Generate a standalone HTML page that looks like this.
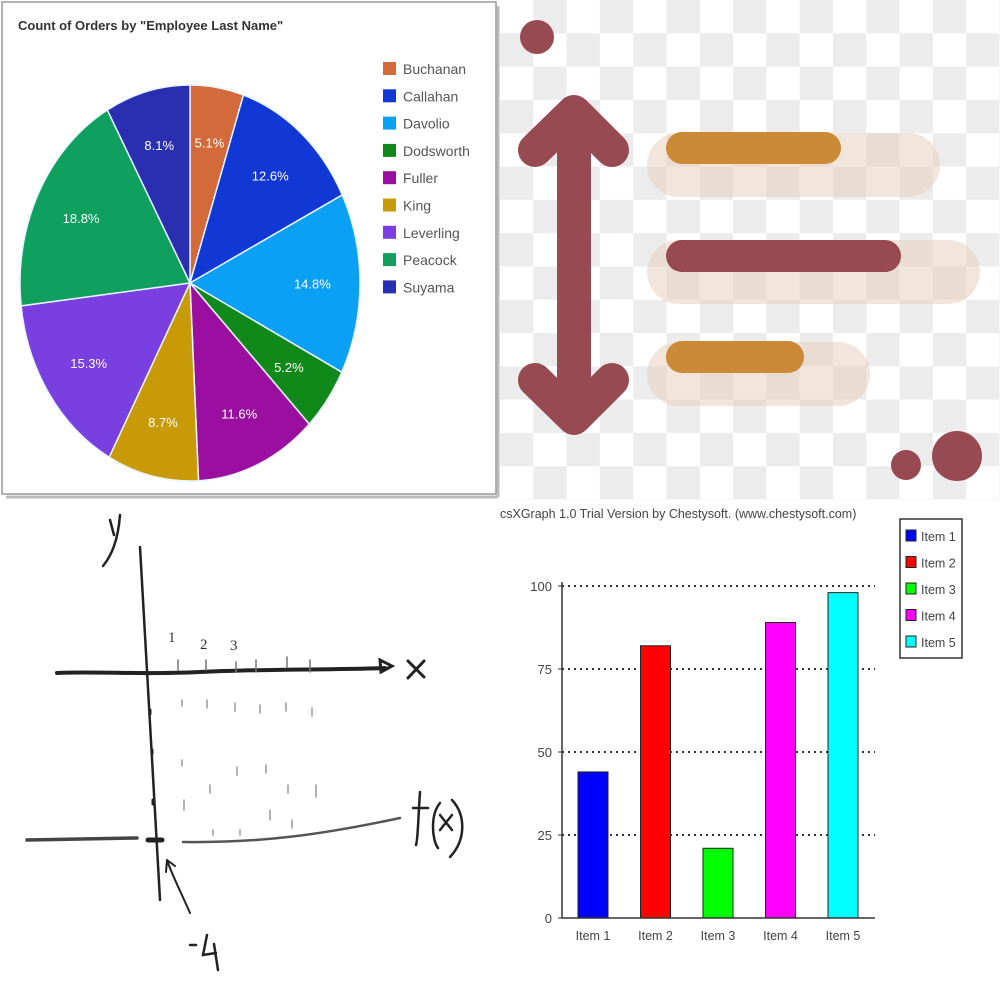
<!DOCTYPE html>
<html><head><meta charset="utf-8"><style>
body{margin:0;width:1000px;height:1000px;background:#fff;overflow:hidden;font-family:"Liberation Sans",sans-serif;}
svg{position:absolute;left:0;top:0}
</style></head><body>
<svg width="1000" height="1000" viewBox="0 0 1000 1000">
<defs>
<pattern id="chk" x="500" y="0" width="66.6" height="66.6" patternUnits="userSpaceOnUse">
<rect width="66.6" height="66.6" fill="#fff"/>
<rect x="33.3" y="0" width="33.3" height="33.3" fill="#ececec"/>
<rect x="0" y="33.3" width="33.3" height="33.3" fill="#ececec"/>
</pattern>
</defs>
<!-- top-left pie panel -->
<g>
<rect x="2" y="2" width="494" height="492" fill="#fff" stroke="#999" stroke-width="1.5"/>
<line x1="498" y1="6" x2="498" y2="497" stroke="#bbb" stroke-width="3"/>
<line x1="6" y1="497" x2="498" y2="497" stroke="#bbb" stroke-width="3"/>
<text x="18" y="30" font-size="13" font-weight="bold" fill="#333">Count of Orders by "Employee Last Name"</text>
<g id="pie"></g>
<g id="pielegend"></g>
</g>
<!-- top-right icon -->
<g>
<rect x="500" y="0" width="500" height="500" fill="url(#chk)"/>
<circle cx="537" cy="37" r="17" fill="#984a53"/>
<rect x="647" y="133" width="293" height="64" rx="32" fill="#e8d2c0" opacity="0.55"/>
<rect x="647" y="240" width="333" height="64" rx="32" fill="#e8d2c0" opacity="0.55"/>
<rect x="647" y="342" width="223" height="64" rx="32" fill="#e8d2c0" opacity="0.55"/>
<line x1="682" y1="148" x2="825" y2="148" stroke="#cc8a36" stroke-width="32" stroke-linecap="round"/>
<line x1="682" y1="256" x2="885" y2="256" stroke="#984a53" stroke-width="32" stroke-linecap="round"/>
<line x1="682" y1="357" x2="788" y2="357" stroke="#cc8a36" stroke-width="32" stroke-linecap="round"/>
<g stroke="#984a53" stroke-width="34" stroke-linecap="round" stroke-linejoin="round" fill="none">
<line x1="574" y1="120" x2="574" y2="410"/>
<polyline points="535,150 574,112 612,150"/>
<polyline points="535,380 574,418 612,380"/>
</g>
<circle cx="906" cy="465" r="15" fill="#984a53"/>
<circle cx="957" cy="456" r="25" fill="#984a53"/>
</g>
<!-- bottom-left sketch -->
<g fill="none" stroke="#222" stroke-linecap="round">
<path d="M57,673 C100,671 140,675 200,672 S330,670 385,668" stroke-width="4"/>
<path d="M380,660 L392,666 L381,672 Z" stroke-width="3"/>
<path d="M140,547 C145,650 152,760 160,900" stroke-width="2.5"/>
<path d="M27,840 L137,838" stroke-width="3.5" stroke="#444"/>
<path d="M148,840 L162,840" stroke-width="5"/>
<path d="M183,842 C260,843 320,835 400,818" stroke-width="2.5" stroke="#555"/>
<path d="M190,913 C180,890 172,875 167,860 M167,860 L166,872 M167,860 L175,866" stroke-width="2"/>
<path d="M120,515 C118,540 112,555 103,566 M110,520 L114,535" stroke-width="2.5"/>
<path d="M408,661 L424,677 M424,661 L408,678" stroke-width="3"/>
<path d="M178,660 v10 M206,660 v10 M236,662 v10 M256,660 v12 M287,657 v10 M310,660 v12" stroke-width="1.5" stroke="#777"/>
<path d="M182,700 v6 M207,700 v8 M235,703 v8 M260,705 v8 M286,703 v8 M312,708 v8 M182,760 v6 M210,785 v8 M237,767 v8 M266,765 v8 M288,785 v8 M316,785 v12 M184,800 v10 M270,810 v10 M292,820 v8 M213,830 v5 M240,830 v5" stroke-width="1.5" stroke="#999"/>
<path d="M150,710 v4 M152,750 v4 M153,800 v4" stroke-width="3"/>
<path d="M420,792 C418,820 418,840 416,845 M413,808 L428,808" stroke-width="2.5"/>
<path d="M440,803 C430,815 432,840 438,848 M452,800 C466,815 466,840 450,857 M440,815 L452,830 M452,815 L440,830" stroke-width="2.5"/>
<path d="M190,945 L196,945 M207,935 L203,955 L216,953 M214,944 L218,970" stroke-width="2.5"/>
</g>
<g font-family="Liberation Serif,serif" font-size="15" fill="#333">
<text x="168" y="642">1</text><text x="200" y="649">2</text><text x="230" y="650">3</text>
</g>
<!-- bottom-right bar chart -->
<g>
<text x="500" y="518" font-size="12.5" fill="#444">csXGraph 1.0 Trial Version by Chestysoft. (www.chestysoft.com)</text>
<g id="bars"></g>
<rect x="900" y="519" width="62" height="139" fill="#fff" stroke="#333" stroke-width="1.5"/>
<g id="barlegend"></g>
</g>
</svg>
<script>
const pieNames=["Buchanan","Callahan","Davolio","Dodsworth","Fuller","King","Leverling","Peacock","Suyama"];
const pieValues=[5.1,12.6,14.8,5.2,11.6,8.7,15.3,18.8,8.1];
const pieColors=["#d4693a","#1138d4","#0aa0f5","#11891a","#9a0fa0","#c89a08","#7a3fe0","#0fa060","#2a2eb0"];
const barCats=["Item 1","Item 2","Item 3","Item 4","Item 5"];
const barValues=[44,82,21,89,98];
const barColors=["#0000ff","#ff0000","#00ff00","#ff00ff","#00ffff"];
const yTicks=[0,25,50,75,100];
const NS="http://www.w3.org/2000/svg";
function mk(t,a,p){const e=document.createElementNS(NS,t);for(const k in a)e.setAttribute(k,a[k]);p.appendChild(e);return e;}
// pie
const cx=190,cy=283,rx=170,ry=198;
const total=pieValues.reduce((a,b)=>a+b,0);
const pie=document.getElementById('pie');
let acc=0;
function pt(f,s){const a=f*2*Math.PI;return [cx+s*rx*Math.sin(a),cy-s*ry*Math.cos(a)];}
pieValues.forEach((v,i)=>{
 const f0=acc/total,f1=(acc+v)/total;acc+=v;
 const p0=pt(f0,1),p1=pt(f1,1);const large=(f1-f0)>0.5?1:0;
 const s=mk('path',{d:`M${cx},${cy}L${p0[0]},${p0[1]}A${rx},${ry} 0 ${large} 1 ${p1[0]},${p1[1]}Z`,fill:pieColors[i],stroke:"#e8f4ff","stroke-width":1.5},pie);
 
 
 const c=pt((f0+f1)/2,0.72);
 const t=mk('text',{x:c[0],y:c[1]+5,"text-anchor":"middle","font-size":13,fill:"#fff"},pie);
 t.textContent=v.toFixed(1)+"%";
 
 
});
const pl=document.getElementById('pielegend');
pieNames.forEach((n,i)=>{
 const y=62+i*27.3;
 const r=mk('rect',{x:383,y:y,width:13,height:13,fill:pieColors[i]},pl);
 
 
 const t=mk('text',{x:403,y:y+12,"font-size":14,fill:"#555"},pl);
 t.textContent=n;
 
 
});
// bars
const g=document.getElementById('bars');
const x0=562,x1=875,yb=918,yt=586;
function ys(v){return yb-(v/100)*(yb-yt);}
function xs(i){return 593+i*62.5;}
yTicks.forEach(v=>{
 if(v>0){const l=mk('line',{x1:x0,y1:ys(v),x2:x1,y2:ys(v),stroke:"#333","stroke-width":2,"stroke-dasharray":"2,4"},g);
 
 }
 mk('line',{x1:x0-4,y1:ys(v),x2:x0,y2:ys(v),stroke:"#333"},g);
 const t=mk('text',{x:x0-10,y:ys(v)+5,"text-anchor":"end","font-size":13,fill:"#444"},g);
 t.textContent=v;
 
 
});
barValues.forEach((v,i)=>{
 const r=mk('rect',{x:xs(i)-15,y:ys(v),width:30,height:yb-ys(v),fill:barColors[i],stroke:"#222","stroke-width":1},g);
 
 
 const t=mk('text',{x:xs(i),y:yb+22,"text-anchor":"middle","font-size":12.5,fill:"#444"},g);
 t.textContent=barCats[i];
 
 
});
const ax=mk('path',{d:`M${x0},${yt-4}V${yb}H${x1}`,fill:"none",stroke:"#333","stroke-width":1.5},g);


const bl=document.getElementById('barlegend');
barCats.forEach((n,i)=>{
 const y=530+i*26.5;
 const r=mk('rect',{x:906,y:y,width:10,height:11,fill:barColors[i],stroke:"#222"},bl);
 
 
 const t=mk('text',{x:921,y:y+11,"font-size":12.5,fill:"#444"},bl);
 t.textContent=n.replace("Item","Item").replace("I","I");
 
 
});
</script>
</body></html>
